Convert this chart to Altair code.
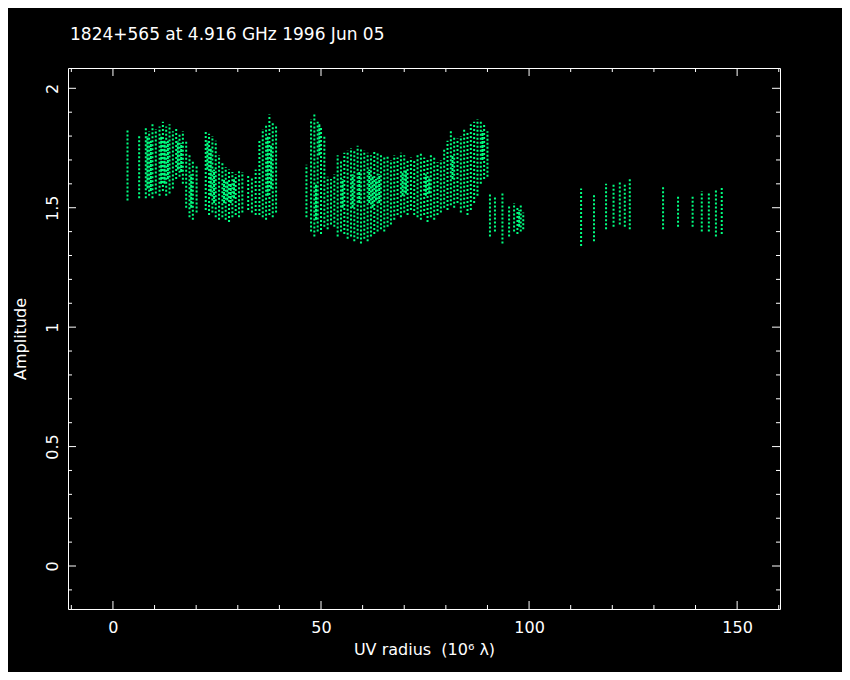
import altair as alt
import pandas as pd

# visibility stripes: UV radius (10^6 lambda), amplitude range
uv = [3.5, 6.3, 7.9, 8.7, 9.5, 10.3, 11.2, 12.0, 12.8, 13.6, 14.4, 15.2, 16.0, 16.8,
      17.6, 18.4, 19.2, 20.1, 22.3, 23.1, 23.9, 24.7, 25.5, 26.3, 27.1, 27.9, 28.7,
      29.5, 30.3, 31.1, 32.5, 33.4, 34.3, 35.2, 36.0, 36.8, 37.6, 38.4, 39.2,
      46.5, 47.6, 48.4, 49.2, 50.0, 50.8, 51.6, 52.4, 53.2, 54.0, 54.8, 55.6, 56.4,
      57.2, 58.0, 58.8, 59.6, 60.4, 61.2, 62.0, 62.8, 63.6, 64.4, 65.2, 66.0, 66.8,
      67.6, 68.4, 69.2, 70.0, 70.8, 71.6, 72.4, 73.2, 74.0, 74.8, 75.6, 76.4, 77.2,
      78.0, 78.8, 79.6, 80.4, 81.2, 82.0, 82.8, 83.6, 84.4, 85.2, 86.0, 86.8, 87.6,
      88.4, 89.2, 90.0, 90.6, 91.8, 93.6, 95.2, 96.4, 97.2, 98.0, 98.6,
      112.5, 115.6, 118.5, 120.3, 121.8, 123.0, 124.2, 132.2, 135.8, 139.3, 141.5,
      143.2, 144.9, 146.3]
amp_lo = [1.53, 1.54, 1.54, 1.55, 1.54, 1.56, 1.55, 1.57, 1.55, 1.56, 1.58, 1.62, 1.63, 1.60,
          1.50, 1.46, 1.45, 1.48, 1.49, 1.47, 1.48, 1.46, 1.45, 1.46, 1.45, 1.44, 1.46,
          1.47, 1.46, 1.48, 1.49, 1.48, 1.47, 1.47, 1.46, 1.45, 1.47, 1.46, 1.48,
          1.46, 1.40, 1.38, 1.40, 1.39, 1.42, 1.41, 1.43, 1.42, 1.38, 1.40, 1.39, 1.37,
          1.38, 1.36, 1.37, 1.35, 1.37, 1.36, 1.38, 1.39, 1.40, 1.41, 1.40, 1.42, 1.43,
          1.45, 1.47, 1.46, 1.48, 1.47, 1.49, 1.47, 1.46, 1.45, 1.47, 1.44, 1.46, 1.45,
          1.47, 1.48, 1.50, 1.49, 1.51, 1.50, 1.52, 1.48, 1.50, 1.47, 1.49, 1.52, 1.55,
          1.60, 1.62, 1.63, 1.38, 1.40, 1.35, 1.38, 1.40, 1.39, 1.40, 1.41,
          1.34, 1.36, 1.41, 1.42, 1.43, 1.42, 1.41, 1.41, 1.42, 1.42, 1.40,
          1.40, 1.38, 1.39]
amp_hi = [1.83, 1.80, 1.84, 1.82, 1.85, 1.83, 1.84, 1.86, 1.84, 1.85, 1.82, 1.83, 1.81, 1.82,
          1.78, 1.72, 1.70, 1.68, 1.82, 1.81, 1.80, 1.78, 1.72, 1.69, 1.67, 1.66, 1.65,
          1.64, 1.66, 1.65, 1.64, 1.63, 1.66, 1.78, 1.83, 1.85, 1.89, 1.86, 1.84,
          1.68, 1.87, 1.89, 1.86, 1.84, 1.80, 1.63, 1.62, 1.64, 1.72, 1.70, 1.73, 1.74,
          1.75, 1.74, 1.76, 1.75, 1.74, 1.73, 1.72, 1.74, 1.73, 1.72, 1.71, 1.72, 1.70,
          1.72, 1.71, 1.73, 1.72, 1.70, 1.71, 1.70, 1.72, 1.73, 1.71, 1.70, 1.72, 1.71,
          1.69, 1.70, 1.75, 1.78, 1.82, 1.80, 1.79, 1.80, 1.83, 1.82, 1.85, 1.86, 1.87,
          1.86, 1.85, 1.82, 1.56, 1.55, 1.56, 1.51, 1.52, 1.50, 1.51, 1.48,
          1.58, 1.56, 1.60, 1.60, 1.61, 1.60, 1.62, 1.59, 1.55, 1.55, 1.57,
          1.56, 1.58, 1.59]

# denser cores of the point clouds
core_uv = [8.3, 9.1, 11.6, 12.4, 13.2, 15.6, 16.4, 18.8, 22.7, 23.5, 24.3, 26.7, 27.5,
           28.3, 29.1, 37.2, 38.0, 48.8, 49.6, 55.2, 57.6, 59.2, 61.6, 62.4, 63.2, 64.0,
           69.6, 70.4, 75.2, 76.0, 81.6, 88.8, 97.6]
core_lo = [1.58, 1.57, 1.60, 1.60, 1.62, 1.66, 1.65, 1.50, 1.66, 1.55, 1.52, 1.52, 1.53,
           1.52, 1.54, 1.55, 1.58, 1.45, 1.72, 1.50, 1.50, 1.52, 1.52, 1.50, 1.53, 1.52,
           1.55, 1.56, 1.55, 1.56, 1.62, 1.70, 1.42]
core_hi = [1.80, 1.78, 1.80, 1.78, 1.78, 1.78, 1.77, 1.64, 1.78, 1.75, 1.66, 1.62, 1.61,
           1.60, 1.62, 1.80, 1.76, 1.60, 1.85, 1.62, 1.64, 1.65, 1.66, 1.63, 1.62, 1.64,
           1.65, 1.66, 1.64, 1.63, 1.72, 1.82, 1.49]

x_major = [0, 50, 100, 150]
x_minor = [-10, 10, 20, 30, 40, 60, 70, 80, 90, 110, 120, 130, 140, 160]
y_major = [0, 0.5, 1, 1.5, 2]
y_minor = [-0.1, 0.1, 0.2, 0.3, 0.4, 0.6, 0.7, 0.8, 0.9, 1.1, 1.2, 1.3, 1.4,
           1.6, 1.7, 1.8, 1.9]

W, H = 712, 541
GREEN = "#00FF80"
FONT = "DejaVu Sans"

xs = alt.Scale(domain=[-10.8, 160.3], nice=False, zero=False)
ys = alt.Scale(domain=[-0.18, 2.085], nice=False, zero=False)
x_title = "UV radius\u00a0\u00a0(10⁶ λ)"
y_title = "Amplitude"
x_axis = alt.Axis(values=x_major, title=x_title, grid=False, ticks=False, domain=False,
                  labelPadding=10, titlePadding=6, labelExpr="'' + datum.value",
                  labelFlush=False)
y_axis = alt.Axis(values=y_major, title=y_title, grid=False, ticks=False, domain=False,
                  labelAngle=270, labelAlign="center", labelBaseline="alphabetic",
                  labelPadding=11, titlePadding=16, labelExpr="'' + datum.value",
                  labelFlush=False)

stripes = pd.DataFrame({"uv": uv, "lo": amp_lo, "hi": amp_hi})
cores = pd.DataFrame({"uv": core_uv, "lo": core_lo, "hi": core_hi})

main = alt.Chart(stripes).mark_rule(color=GREEN, strokeWidth=2, strokeDash=[2, 2]).encode(
    x=alt.X("uv:Q", scale=xs, axis=x_axis, title=x_title),
    y=alt.Y("lo:Q", scale=ys, axis=y_axis, title=y_title),
    y2="hi:Q",
)
core = alt.Chart(cores).mark_rule(color=GREEN, strokeWidth=2, strokeDash=[3, 1]).encode(
    x=alt.X("uv:Q", scale=xs, axis=x_axis, title=x_title),
    y=alt.Y("lo:Q", scale=ys, axis=y_axis, title=y_title),
    y2="hi:Q",
)


def xticks(vals, length):
    d = pd.DataFrame({"uv": vals})
    enc_x = alt.X("uv:Q", scale=xs, axis=x_axis, title=x_title)
    bottom = alt.Chart(d).mark_rule(color="white", strokeWidth=1).encode(
        x=enc_x, y=alt.value(H), y2=alt.value(H - length))
    top = alt.Chart(d).mark_rule(color="white", strokeWidth=1).encode(
        x=enc_x, y=alt.value(0), y2=alt.value(length))
    return [bottom, top]


def yticks(vals, length):
    d = pd.DataFrame({"lo": vals})
    enc_y = alt.Y("lo:Q", scale=ys, axis=y_axis, title=y_title)
    left = alt.Chart(d).mark_rule(color="white", strokeWidth=1).encode(
        y=enc_y, x=alt.value(0), x2=alt.value(length))
    right = alt.Chart(d).mark_rule(color="white", strokeWidth=1).encode(
        y=enc_y, x=alt.value(W), x2=alt.value(W - length))
    return [left, right]


layers = [main, core] + xticks(x_major, 8) + xticks(x_minor, 4) + yticks(y_major, 8) + yticks(y_minor, 4)

chart = alt.layer(*layers).properties(
    width=W,
    height=H,
    autosize="none",
    padding={"left": 60, "top": 60, "right": 62, "bottom": 63},
    background="black",
    title=alt.TitleParams(
        "1824+565 at 4.916 GHz 1996 Jun 05",
        anchor="start", frame="group", offset=11, baseline="alphabetic",
        fontSize=17, font=FONT, fontWeight="normal", color="white", dx=2,
    ),
).configure_view(
    stroke="white", strokeWidth=1
).configure_axis(
    labelFont=FONT, titleFont=FONT, labelFontSize=16, titleFontSize=16,
    labelColor="white", titleColor="white", titleFontWeight="normal",
)

chart.save("out.html", embed_options={"renderer": "svg", "actions": False})
